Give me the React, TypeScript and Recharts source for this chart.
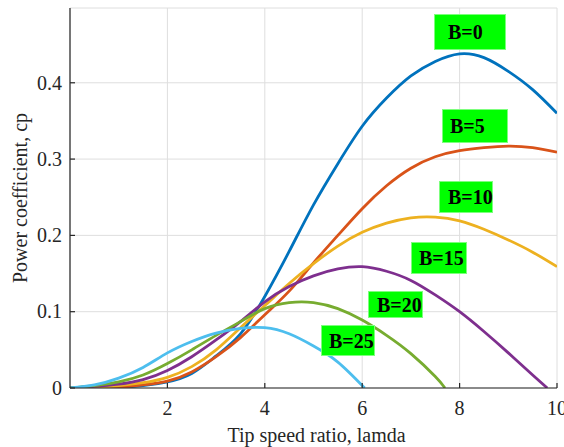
import { LineChart, Line, XAxis, YAxis, CartesianGrid } from "recharts";

// tip speed ratio grid (x) shared by every curve
const LAMDA = [0, 0.5, 1, 1.5, 2, 2.5, 3, 3.5, 4, 4.5, 5, 5.5, 6, 6.5, 7, 7.5, 8, 8.5, 9, 9.5, 10];

// power coefficient per pitch angle (null = below zero)
const CP_B0 = [0, 0.0003, 0.001, 0.003, 0.008, 0.019, 0.042, 0.071, 0.12, 0.179, 0.24, 0.294, 0.343, 0.38, 0.409, 0.428, 0.438, 0.433, 0.415, 0.391, 0.36];
const CP_B5 = [0, 0.0002, 0.001, 0.004, 0.009, 0.021, 0.041, 0.066, 0.096, 0.127, 0.164, 0.2, 0.235, 0.265, 0.288, 0.303, 0.311, 0.315, 0.317, 0.315, 0.309];
const CP_B10 = [0, 0.0005, 0.003, 0.007, 0.014, 0.028, 0.05, 0.079, 0.108, 0.137, 0.163, 0.186, 0.204, 0.216, 0.223, 0.224, 0.219, 0.208, 0.194, 0.178, 0.159];
const CP_B15 = [0, 0.002, 0.005, 0.011, 0.023, 0.041, 0.063, 0.087, 0.113, 0.133, 0.147, 0.156, 0.159, 0.153, 0.141, 0.122, 0.1, 0.074, 0.046, 0.017, null];
const CP_B20 = [0, 0.003, 0.008, 0.017, 0.032, 0.05, 0.069, 0.087, 0.104, 0.112, 0.112, 0.104, 0.089, 0.069, 0.045, 0.015, null, null, null, null, null];
const CP_B25 = [0, 0.004, 0.013, 0.027, 0.046, 0.061, 0.072, 0.078, 0.079, 0.071, 0.055, 0.034, null, null, null, null, null, null, null, null, null];

// where the curves hit cp = 0
const ZERO_B15 = 9.8;
const ZERO_B20 = 7.7;
const ZERO_B25 = 6.05;

const X_TICKS = [2, 4, 6, 8, 10];
const Y_TICKS = [0, 0.1, 0.2, 0.3, 0.4];
const Y_MAX = 0.498;

const AX = "#262626";
const FONT = "Liberation Serif";

function toPoints(vals: (number | null)[], zeroAt?: number) {
  const pts = LAMDA.map((l, i) => ({ lamda: l, cp: vals[i] })).filter((p) => p.cp !== null);
  if (zeroAt !== undefined) pts.push({ lamda: zeroAt, cp: 0 });
  return pts;
}

const SERIES = [
  { name: "B=0", data: toPoints(CP_B0), color: "#0072BD" },
  { name: "B=5", data: toPoints(CP_B5), color: "#D95319" },
  { name: "B=10", data: toPoints(CP_B10), color: "#EDB120" },
  { name: "B=15", data: toPoints(CP_B15, ZERO_B15), color: "#7E2F8E" },
  { name: "B=20", data: toPoints(CP_B20, ZERO_B20), color: "#77AC30" },
  { name: "B=25", data: toPoints(CP_B25, ZERO_B25), color: "#4DBEEE" },
];

// annotation boxes (figure pixels)
const BOXES = [
  { text: "B=0", left: 434, top: 14, w: 72, h: 36, pad: 13 },
  { text: "B=5", left: 442, top: 109, w: 66, h: 34, pad: 7 },
  { text: "B=10", left: 439, top: 181, w: 54, h: 32, pad: 8 },
  { text: "B=15", left: 411, top: 242, w: 56, h: 32, pad: 7 },
  { text: "B=20", left: 368, top: 291, w: 55, h: 27, pad: 8 },
  { text: "B=25", left: 321, top: 325, w: 54, h: 31, pad: 7 },
];

const XTick = ({ x, y, payload }: any) => (
  <text x={x} y={y + 14} textAnchor="middle" fill={AX} fontSize={20} fontFamily={FONT}>
    {payload.value}
  </text>
);

const YTick = ({ x, y, payload }: any) => (
  <text x={x} y={y + 6.8} textAnchor="end" fill={AX} fontSize={20} fontFamily={FONT}>
    {payload.value === 0 ? "0" : String(payload.value)}
  </text>
);

export default function App() {
  return (
    <div style={{ position: "absolute", left: 0, top: 0, width: 564, height: 447, background: "#fff", fontFamily: FONT }}>
      <LineChart width={564} height={447} margin={{ top: 8, right: 7, bottom: 0, left: 0 }}>
        <CartesianGrid stroke="#dedede" strokeWidth={1} />
        <XAxis
          dataKey="lamda" type="number" domain={[0, 10]} ticks={X_TICKS} interval={0} height={59}
          allowDataOverflow tickSize={-5} tickMargin={18} stroke={AX} strokeWidth={1.2}
          tick={<XTick />}
          label={{
            content: ({ viewBox }: any) => (
              <text x={viewBox.x + viewBox.width / 2 + 3} y={442} textAnchor="middle" fill={AX} fontSize={20} fontFamily={FONT}>
                Tip speed ratio, lamda
              </text>
            ),
          }}
        />
        <XAxis xAxisId="top" orientation="top" type="number" domain={[0, 10]} ticks={X_TICKS} height={0}
          tick={false} tickSize={-5} stroke={AX} strokeWidth={1.2} />
        <YAxis
          type="number" domain={[0, Y_MAX]} ticks={Y_TICKS} interval={0} width={70}
          allowDataOverflow tickSize={-5} tickMargin={13} stroke={AX} strokeWidth={1.2}
          tick={<YTick />}
          label={{
            content: () => (
              <text x={27} y={198} transform="rotate(-90 27 198)" textAnchor="middle" fill={AX} fontSize={20} fontFamily={FONT}>
                Power coefficient, cp
              </text>
            ),
          }}
        />
        <YAxis yAxisId="right" orientation="right" type="number" domain={[0, Y_MAX]} ticks={Y_TICKS} width={0}
          tick={false} tickSize={-5} stroke={AX} strokeWidth={1.2} />
        {SERIES.map((s) => (
          <Line key={s.name} data={s.data} dataKey="cp" type="natural" stroke={s.color} strokeWidth={2.8}
            dot={false} activeDot={false} isAnimationActive={false} />
        ))}
      </LineChart>
      {BOXES.map((b) => (
        <div key={b.text} style={{
          position: "absolute", left: b.left, top: b.top, width: b.w, height: b.h, boxSizing: "border-box",
          background: "#00ff00", border: "1px solid #7dff7d", paddingLeft: b.pad,
          display: "flex", alignItems: "center", fontFamily: FONT, fontWeight: "bold", fontSize: 20, color: "#000",
          whiteSpace: "nowrap", lineHeight: 1,
        }}>
          {b.text}
        </div>
      ))}
    </div>
  );
}
